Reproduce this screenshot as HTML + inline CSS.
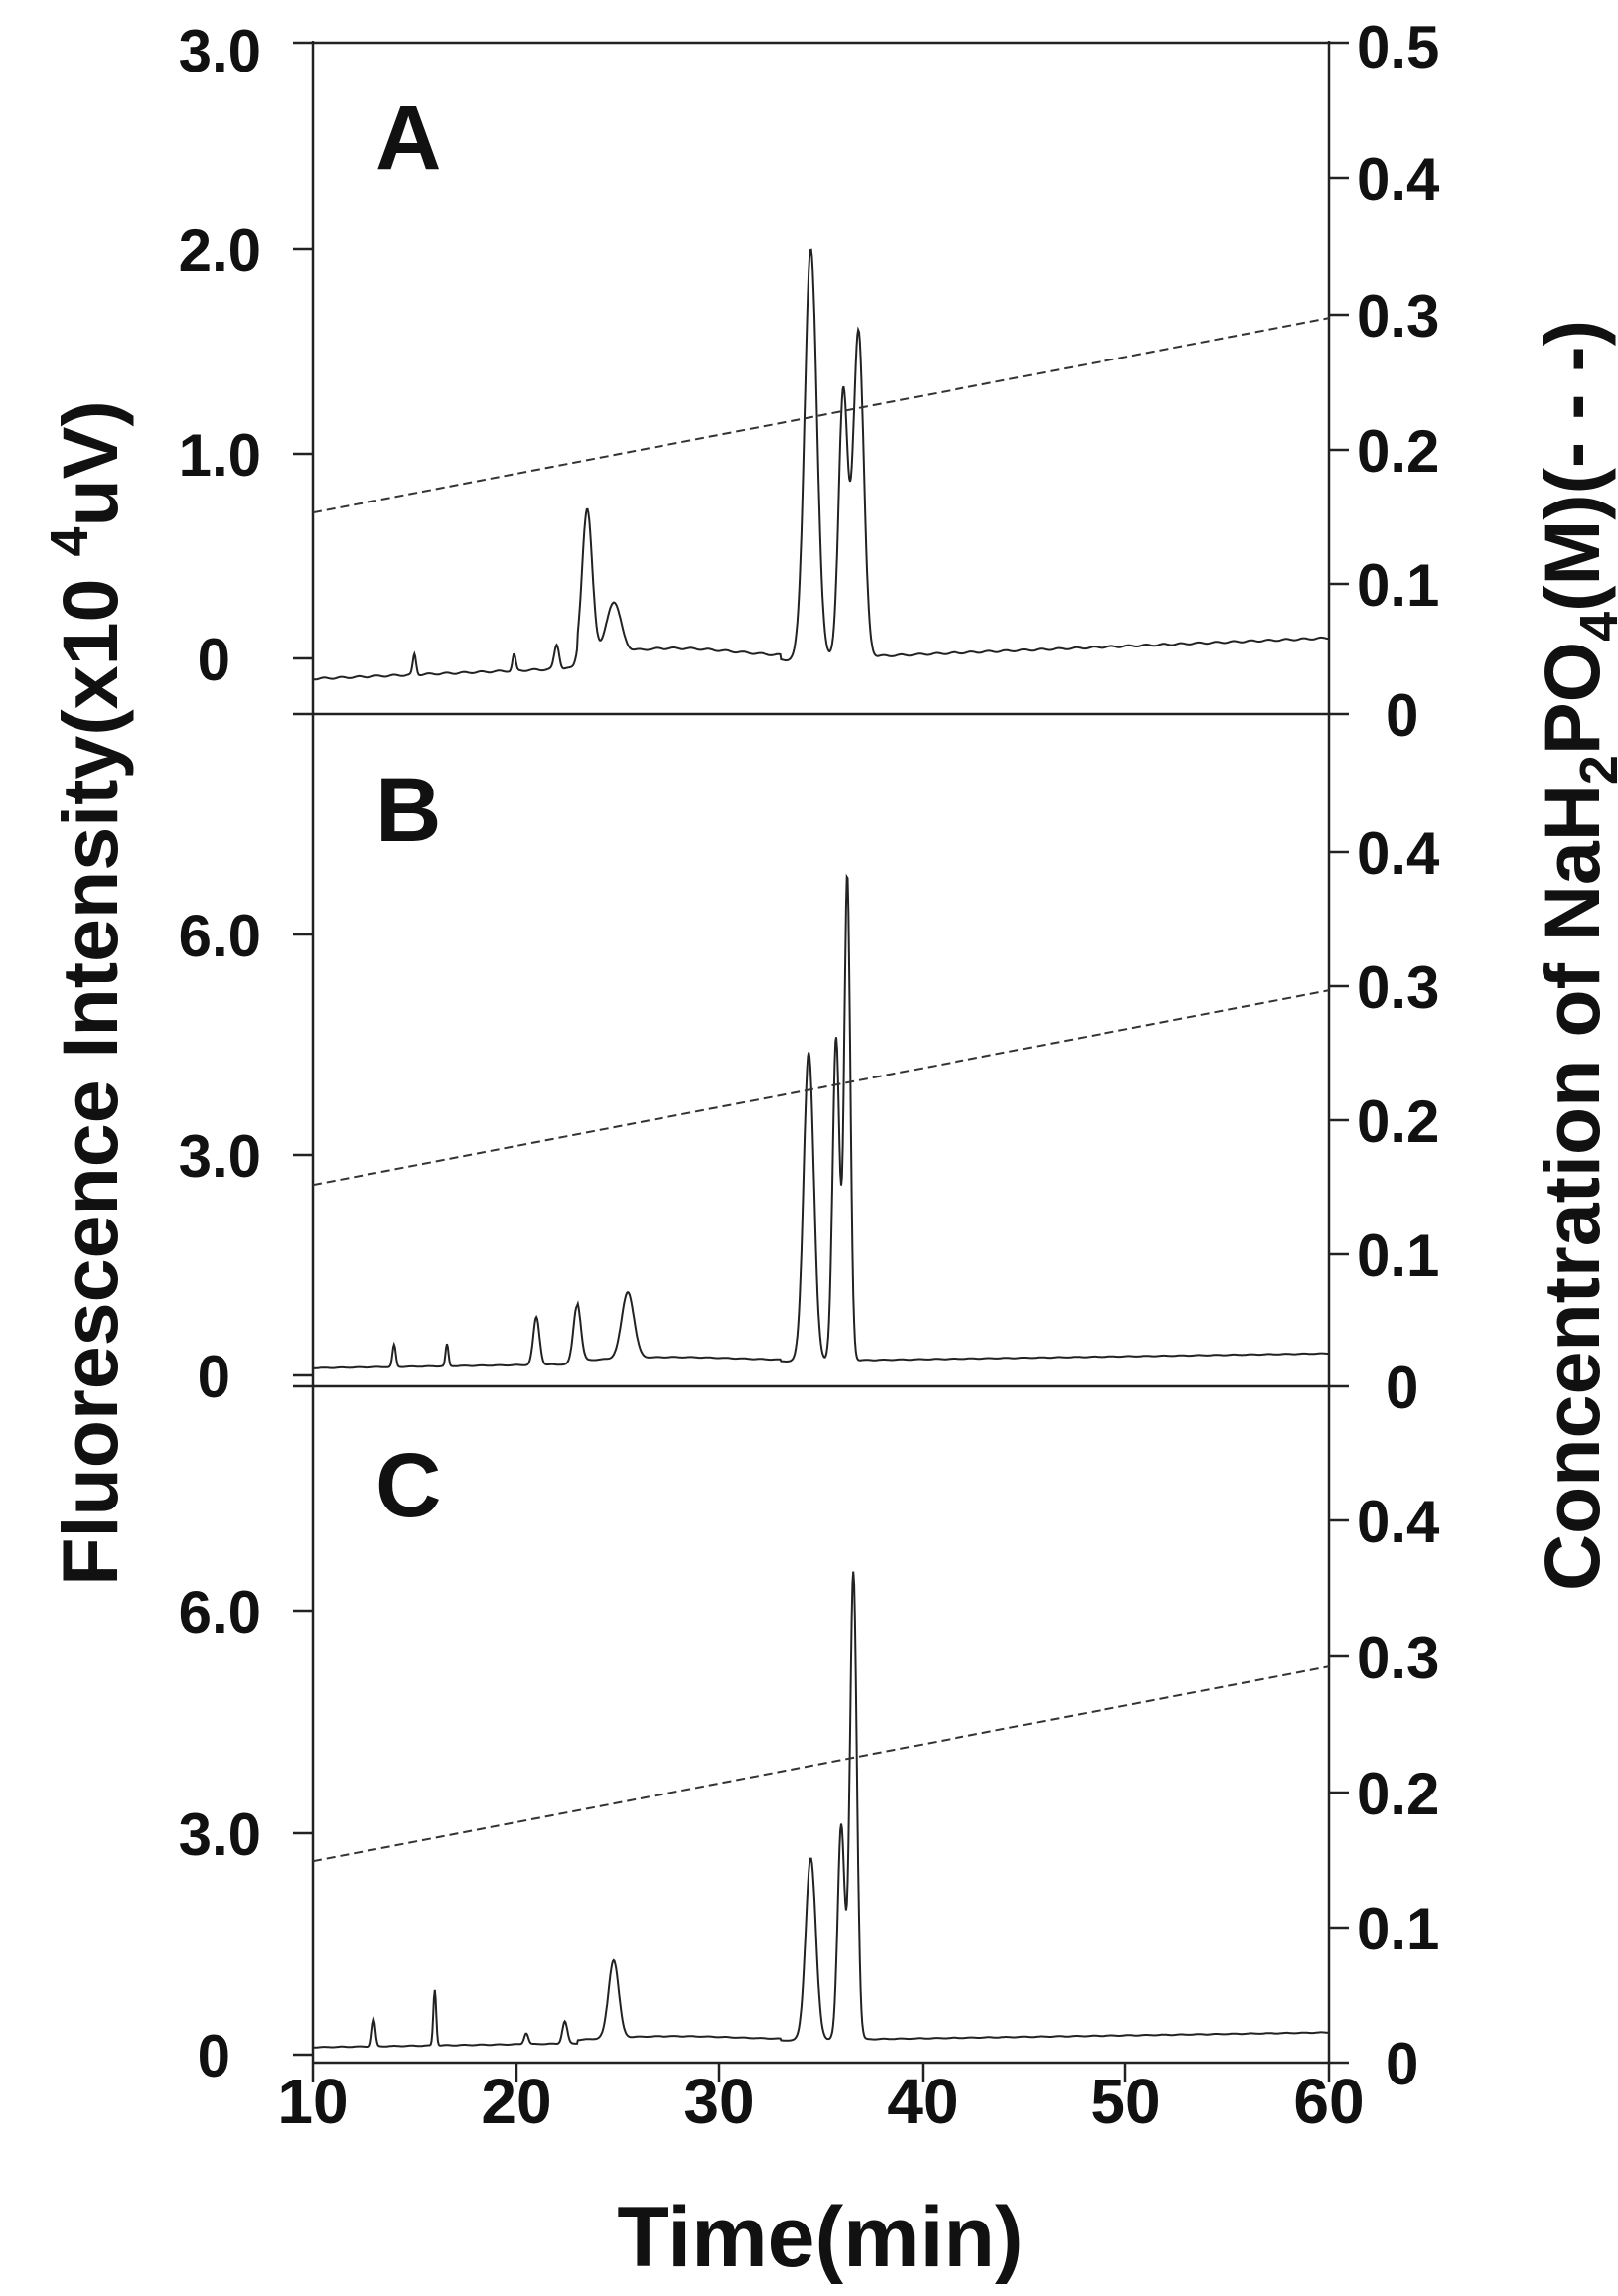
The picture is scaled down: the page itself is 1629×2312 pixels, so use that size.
<!DOCTYPE html>
<html><head><meta charset="utf-8"><style>
html,body{margin:0;padding:0;background:#fff;}
svg{display:block;}
text{font-family:"Liberation Sans",Arial,sans-serif;font-weight:bold;fill:#111;}
</style></head><body>
<svg id="s" width="1629" height="2312" viewBox="0 0 1629 2312" xmlns="http://www.w3.org/2000/svg">
<g stroke="#222" stroke-width="2.5" fill="none">
<line x1="315" y1="41" x2="315" y2="2077"/>
<line x1="1338" y1="41" x2="1338" y2="2077"/>
<line x1="295" y1="43" x2="1338" y2="43"/>
<line x1="295" y1="719" x2="1358" y2="719"/>
<line x1="295" y1="1396" x2="1358" y2="1396"/>
<line x1="315" y1="2077" x2="1358" y2="2077"/>
<path d="M295 251H315M295 457H315M295 663H315M295 1385H315M295 1163H315M295 941H315M295 2069H315M295 1846H315M295 1622H315"/>
<path d="M1338 43H1358M1338 179H1358M1338 317H1358M1338 453H1358M1338 588H1358
M1338 1263H1358M1338 1128H1358M1338 993H1358M1338 858H1358
M1338 1941H1358M1338 1805H1358M1338 1668H1358M1338 1531H1358"/>
<path d="M315 2077V2097M520 2077V2097M724 2077V2097M929 2077V2097M1133 2077V2097M1338 2077V2097"/>
</g>
<g id="dyn"></g>
<g font-size="60" text-anchor="end" transform="translate(0,22)">
<text x="263" y="50">3.0</text>
<text x="263" y="251">2.0</text>
<text x="263" y="457">1.0</text>
<text x="232" y="663">0</text>
<text x="263" y="941">6.0</text>
<text x="263" y="1163">3.0</text>
<text x="232" y="1385">0</text>
<text x="263" y="1622">6.0</text>
<text x="263" y="1846">3.0</text>
<text x="232" y="2069">0</text>
</g>
<g font-size="60" text-anchor="start" transform="translate(0,22)">
<text x="1366" y="46">0.5</text>
<text x="1366" y="179">0.4</text>
<text x="1366" y="317">0.3</text>
<text x="1366" y="453">0.2</text>
<text x="1366" y="588">0.1</text>
<text x="1395" y="719">0</text>
<text x="1366" y="858">0.4</text>
<text x="1366" y="993">0.3</text>
<text x="1366" y="1128">0.2</text>
<text x="1366" y="1263">0.1</text>
<text x="1395" y="1396">0</text>
<text x="1366" y="1531">0.4</text>
<text x="1366" y="1668">0.3</text>
<text x="1366" y="1805">0.2</text>
<text x="1366" y="1941">0.1</text>
<text x="1395" y="2077">0</text>
</g>
<g font-size="64" text-anchor="middle">
<text x="315" y="2138">10</text><text x="520" y="2138">20</text><text x="724" y="2138">30</text>
<text x="929" y="2138">40</text><text x="1133" y="2138">50</text><text x="1338" y="2138">60</text>
</g>
<text x="826" y="2282" font-size="86" text-anchor="middle">Time(min)</text>
<g font-size="92">
<text x="378" y="170">A</text>
<text x="378" y="847">B</text>
<text x="378" y="1527">C</text>
</g>
<text transform="translate(118,1000) rotate(-90)" font-size="79" text-anchor="middle">Fluorescence Intensity(x10 <tspan dy="-30" font-size="54">4</tspan><tspan dy="30">uV)</tspan></text>
<text transform="translate(1610,962) rotate(-90)" font-size="79" text-anchor="middle">Concentration of NaH<tspan dy="18" font-size="54">2</tspan><tspan dy="-18">PO</tspan><tspan dy="18" font-size="54">4</tspan><tspan dy="-18">(M)(- - -)</tspan></text>
</svg>
<script>
var X=function(t){return 315+(t-10)*20.46;};
var panels=[
 {y0:663,ppu:206,bot:719,b0:-0.1,b1:0.1,pk:[[15,0.1,0.08],[19.9,0.08,0.08],[22,0.12,0.12],[23.5,0.72,0.25],[24.8,0.25,0.35],[34.5,2.0,0.3],[36.1,1.3,0.22],[36.85,1.6,0.26]]},
 {y0:1385,ppu:74,bot:1396,b0:0.1,b1:0.3,pk:[[14,0.3,0.08],[16.6,0.3,0.07],[21,0.65,0.15],[23,0.8,0.18],[25.5,0.9,0.3],[34.4,4.2,0.25],[35.75,4.4,0.17],[36.3,6.6,0.15]]},
 {y0:2069,ppu:74.7,bot:2077,b0:0.1,b1:0.3,pk:[[13,0.35,0.08],[16,0.75,0.07],[20.5,0.15,0.1],[22.4,0.3,0.12],[24.8,1.05,0.25],[34.5,2.45,0.25],[36,2.9,0.17],[36.6,6.3,0.17]]}
];
var g=document.getElementById('dyn'),h='';
panels.forEach(function(p){
 var d='';
 for(var t=10;t<=60.001;t+=0.04){
  var v=p.b0+(p.b1-p.b0)*(t-10)/50+0.004*Math.sin(t*7.3);
  if(t>23&&t<33)v+=0.08*Math.exp(-(t-27)*(t-27)/30);
  p.pk.forEach(function(k){v+=k[1]*Math.exp(-(t-k[0])*(t-k[0])/(2*k[2]*k[2]));});
  d+=(d?'L':'M')+X(t).toFixed(1)+' '+(p.y0-v*p.ppu).toFixed(1);
 }
 h+='<path d="'+d+'" fill="none" stroke="#222" stroke-width="2"/>';
 var ya=p.bot-0.15*1352,yb=p.bot-0.295*1352;
 h+='<line x1="315" y1="'+ya+'" x2="1338" y2="'+yb+'" stroke="#333" stroke-width="2" stroke-dasharray="9,5"/>';
});
g.innerHTML=h;
</script>
</body></html>
